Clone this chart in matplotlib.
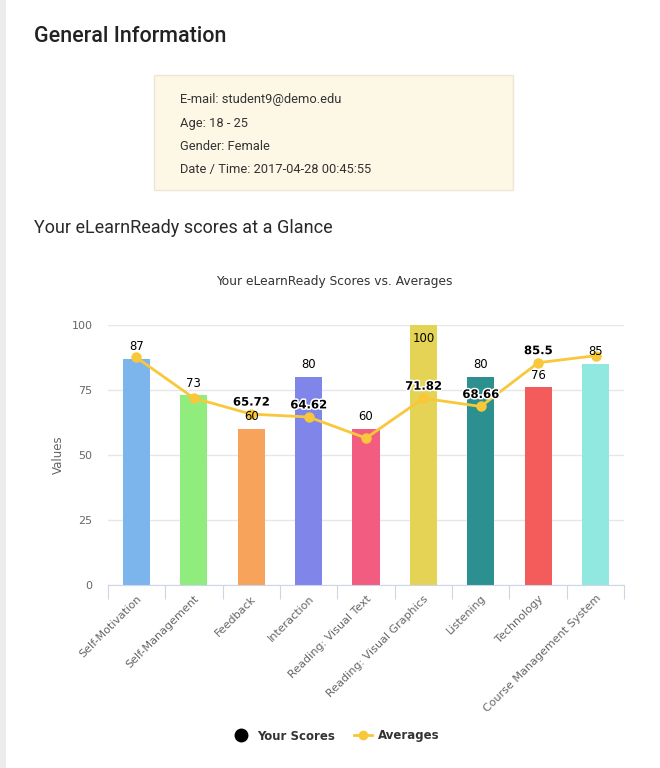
import matplotlib
matplotlib.use("Agg")
import matplotlib.pyplot as plt
from matplotlib.lines import Line2D
from matplotlib.patches import Rectangle
import matplotlib.patheffects as pe

categories = ["Self-Motivation", "Self-Management", "Feedback", "Interaction",
              "Reading: Visual Text", "Reading: Visual Graphics", "Listening",
              "Technology", "Course Management System"]
your_scores = [87, 73, 60, 80, 60, 100, 80, 76, 85]
averages = [87.5, 71.9, 65.72, 64.62, 56.5, 71.82, 68.66, 85.5, 88.2]
avg_labels = [None, None, "65.72", "64.62", None, "71.82", "68.66", "85.5", None]
bar_colors = ["#7cb5ec", "#90ed7d", "#f7a35c", "#8085e9", "#f15c80",
              "#e4d354", "#2b908f", "#f45b5b", "#91e8e1"]
yticks = [0, 25, 50, 75, 100]
info_lines = ["E-mail: student9@demo.edu", "Age: 18 - 25", "Gender: Female",
              "Date / Time: 2017-04-28 00:45:55"]

W, H = 660, 768
fig = plt.figure(figsize=(W / 100, H / 100), dpi=100)
fig.patch.set_facecolor("white")

def fx(x):
    return x / W

def fy(y):
    return 1 - y / H

# left page strip
fig.patches.append(Rectangle((0, 0), fx(6), 1, transform=fig.transFigure,
                             facecolor="#ececec", edgecolor="none"))

fig.text(fx(34), fy(37), "General Information", fontsize=15.5, family="Roboto",
         fontweight="medium", color="#222222", va="center", ha="left")

# info box
fig.patches.append(Rectangle((fx(154), fy(190)), fx(513) - fx(154), fy(75) - fy(190),
                             transform=fig.transFigure, facecolor="#fdf7e5",
                             edgecolor="#ebe6d6", linewidth=1))
for i, line in enumerate(info_lines):
    fig.text(fx(180), fy(100 + 23 * i), line, fontsize=9.3, family="Roboto",
             color="#333333", va="center", ha="left")

fig.text(fx(34), fy(228), "Your eLearnReady scores at a Glance", fontsize=13,
         family="Roboto", fontweight="normal", color="#2a2a2a", va="center", ha="left")

fig.text(fx(334), fy(281), "Your eLearnReady Scores vs. Averages", fontsize=8.8,
         family="DejaVu Sans", color="#333333", va="center", ha="center")

ax = fig.add_axes([fx(107.7), fy(585), fx(624.3) - fx(107.7), fy(325) - fy(585)])
x = list(range(len(categories)))
ax.bar(x, your_scores, width=0.475, color=bar_colors, zorder=2)
ax.plot(x, averages, color="#f8c73a", linewidth=2, marker="o", markersize=6.5,
        zorder=3)

for xi, v in zip(x, your_scores):
    if v >= 100:
        ax.annotate(str(v), (xi, v), xytext=(0, -5), textcoords="offset points",
                    ha="center", va="top", fontsize=8.4, color="#000000", zorder=4)
    else:
        ax.annotate(str(v), (xi, v), xytext=(0, 4), textcoords="offset points",
                    ha="center", va="bottom", fontsize=8.4, color="#000000", zorder=4)

for xi, v, lab in zip(x, averages, avg_labels):
    if lab is None:
        continue
    ax.annotate(lab, (xi, v), xytext=(0, 4), textcoords="offset points",
                ha="center", va="bottom", fontsize=8.4, fontweight="bold",
                color="#000000", zorder=5,
                path_effects=[pe.withStroke(linewidth=2.2, foreground="white")])

ax.set_xlim(-0.5, len(categories) - 0.5)
ax.set_ylim(0, 100)
ax.set_yticks(yticks)
ax.set_yticklabels([str(t) for t in yticks], fontsize=8, color="#666666")
ax.yaxis.grid(True, color="#e6e6e6", linewidth=1, zorder=0)
ax.set_axisbelow(True)
ax.tick_params(axis="y", length=0, pad=11)
for s in ["top", "right", "left"]:
    ax.spines[s].set_visible(False)
ax.spines["bottom"].set_color("#ccd6eb")

# category boundary ticks
ax.set_xticks([i - 0.5 for i in range(len(categories) + 1)], minor=False)
ax.set_xticklabels([""] * (len(categories) + 1))
ax.tick_params(axis="x", which="major", length=10, color="#ccd6eb", direction="out")
ax.set_xticks(x, minor=True)
ax.set_xticklabels(categories, minor=True, rotation=45, ha="right",
                   rotation_mode="anchor", fontsize=8, color="#666666")
ax.tick_params(axis="x", which="minor", length=0, pad=6)

ax.set_ylabel("Values", fontsize=8.5, color="#666666", labelpad=5)

handles = [Line2D([], [], color="black", marker="o", linestyle="none", markersize=9),
           Line2D([], [], color="#f8c73a", marker="o", linewidth=2, markersize=6)]
leg = fig.legend(handles, ["Your Scores", "Averages"], loc="center",
                 bbox_to_anchor=(fx(336), fy(736)), ncol=2, frameon=False,
                 prop={"weight": "bold", "size": 8.5}, handlelength=1.6,
                 columnspacing=1.6, handletextpad=0.5)
for t in leg.get_texts():
    t.set_color("#333333")

fig.savefig("out.png", dpi=100, facecolor="white")
